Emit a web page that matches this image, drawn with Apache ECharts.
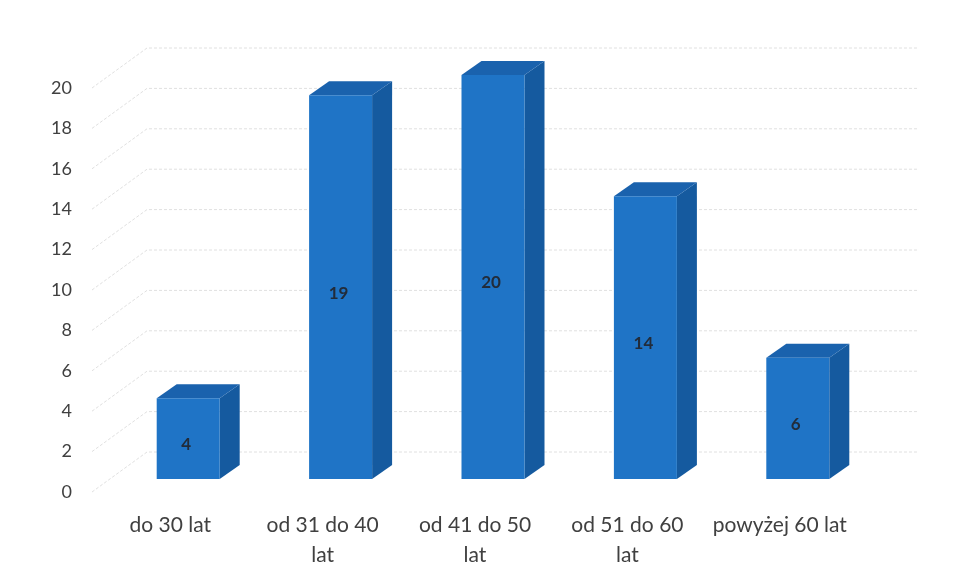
<!DOCTYPE html>
<html>
<head>
<meta charset="utf-8">
<script src="https://cdn.jsdelivr.net/npm/echarts@6/dist/echarts.min.js"></script>
<style>html,body{margin:0;padding:0;background:#fff}#c{width:955px;height:580px}</style>
</head>
<body>
<div id="c"></div>
<script>
var categories = ['do 30 lat', 'od 31 do 40 lat', 'od 41 do 50 lat', 'od 51 do 60 lat', 'powyżej 60 lat'];
var values = [4, 19, 20, 14, 6];
var yTicks = [0, 2, 4, 6, 8, 10, 12, 14, 16, 18, 20];

var WALL_DX = 53, WALL_DY = -40;   // back wall offset
var BAR_DX = 18, BAR_DY = -13;     // bar front-face offset from front plane
var DEP_DX = 20, DEP_DY = -14;     // bar depth
var BAR_W = 63;

var chart = echarts.init(document.getElementById('c'));
chart.setOption({
  backgroundColor: '#ffffff',
  animation: false,
  grid: { left: 94, right: 99, top: 88, bottom: 88 },
  xAxis: {
    type: 'category',
    data: categories,
    axisLine: { show: false },
    axisTick: { show: false },
    axisLabel: {
      interval: 0, hideOverlap: false,
      color: '#404040', fontSize: 21, fontFamily: 'Lato', margin: 18, lineHeight: 30,
      formatter: function (s) { return s.indexOf('od ') === 0 ? s.replace(/ lat$/, '\nlat') : s; }
    }
  },
  yAxis: {
    type: 'value', min: 0, max: 20, interval: 2,
    axisLine: { show: false }, axisTick: { show: false },
    splitLine: { show: false },
    axisLabel: { color: '#404040', fontSize: 18, fontFamily: 'Lato', margin: 22 }
  },
  series: [
    {
      type: 'custom',
      silent: true,
      data: yTicks.map(function (t) { return [0, t]; }),
      renderItem: function (params, api) {
        var cs = params.coordSys;
        var y = api.coord([0, api.value(1)])[1];
        var x = cs.x - 2;
        return {
          type: 'polyline',
          shape: { points: [[x, y], [cs.x + WALL_DX, y + WALL_DY], [cs.x + cs.width + WALL_DX + 8, y + WALL_DY]] },
          style: { stroke: '#e0e0e0', lineWidth: 1, fill: null, lineDash: [3, 2] }
        };
      },
      z: 1
    },
    {
      type: 'custom',
      data: values.map(function (v, i) { return [i, v]; }),
      renderItem: function (params, api) {
        var i = api.value(0), v = api.value(1);
        var base = api.coord([i, 0]);
        var top = api.coord([i, v]);
        var cx = base[0] + BAR_DX;
        var x0 = cx - BAR_W / 2, x1 = cx + BAR_W / 2;
        var yb = base[1] + BAR_DY, yt = top[1] + BAR_DY;
        return {
          type: 'group',
          children: [
            { type: 'polygon', shape: { points: [[x1, yt], [x1 + DEP_DX, yt + DEP_DY], [x1 + DEP_DX, yb + DEP_DY], [x1, yb]] },
              style: { fill: '#155a9f' } },
            { type: 'polygon', shape: { points: [[x0, yt], [x0 + DEP_DX, yt + DEP_DY], [x1 + DEP_DX, yt + DEP_DY], [x1, yt]] },
              style: { fill: '#1a62ad' } },
            { type: 'rect', shape: { x: x0, y: yt, width: BAR_W, height: yb - yt },
              style: { fill: '#1f74c6' } },
            { type: 'text', x: cx - 2, y: (yt + yb) / 2 + 6,
              style: { text: String(v), fill: '#222c3a', font: 'bold 17px Lato', align: 'center', verticalAlign: 'middle' } }
          ]
        };
      },
      z: 2
    }
  ]
});
</script>
</body>
</html>
